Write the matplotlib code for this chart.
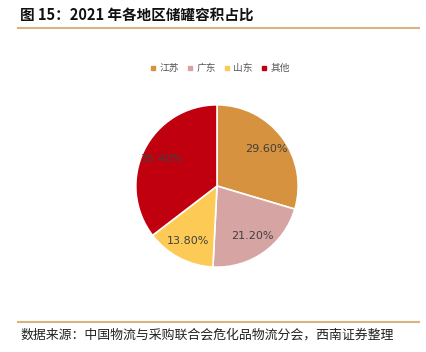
import matplotlib.pyplot as plt
from matplotlib.lines import Line2D

plt.rcParams['font.family'] = ['Noto Sans CJK SC', 'DejaVu Sans']

# 数据
regions = ['江苏', '广东', '山东', '其他']
shares = [29.6, 21.2, 13.8, 35.4]
colors = ['#D6923F', '#D6A4A3', '#FDCB55', '#C0000F']

fig = plt.figure(figsize=(4.27, 3.52), dpi=100)

# 标题和分隔线
fig.text(20 / 427, 1 - 15 / 352, '图 15：2021 年各地区储罐容积占比',
         fontsize=10.5, fontweight='bold', va='center', ha='left', color='#111111')
fig.add_artist(Line2D([18 / 427, 419 / 427], [1 - 28 / 352, 1 - 28 / 352],
                      color='#D9B47E', linewidth=1.5))
fig.add_artist(Line2D([18 / 427, 419 / 427], [1 - 322 / 352, 1 - 322 / 352],
                      color='#D9B47E', linewidth=1.5))
fig.text(20 / 427, 1 - 335 / 352,
         '数据来源：中国物流与采购联合会危化品物流分会，西南证券整理',
         fontsize=9.3, style='italic', va='center', ha='left', color='#222222')

# 饼图
ax = fig.add_axes([(217 - 82) / 427, 1 - (186 + 82) / 352, 164 / 427, 164 / 352])
wedges, texts = ax.pie(shares, colors=colors, startangle=90, counterclock=False,
                       labels=['%.2f%%' % s for s in shares], labeldistance=0.76,
                       wedgeprops=dict(edgecolor='white', linewidth=1.2),
                       textprops=dict(fontsize=8, color='#404040', family='DejaVu Sans'))
for t in texts:
    t.set_ha('center')
    t.set_va('center')
ax.set_xlim(-1.01, 1.01)
ax.set_ylim(-1.01, 1.01)
ax.set_aspect('equal')

# 图例
handles = [Line2D([], [], marker='s', linestyle='', markersize=3.5,
                  markerfacecolor=c, markeredgecolor=c) for c in colors]
fig.legend(handles, regions, loc='center', bbox_to_anchor=(220 / 427, 1 - 68 / 352),
           ncol=4, frameon=False, fontsize=7, handlelength=0.5, handletextpad=0.4,
           columnspacing=0.9, labelcolor='#555555')

fig.savefig('out.png', dpi=100)
